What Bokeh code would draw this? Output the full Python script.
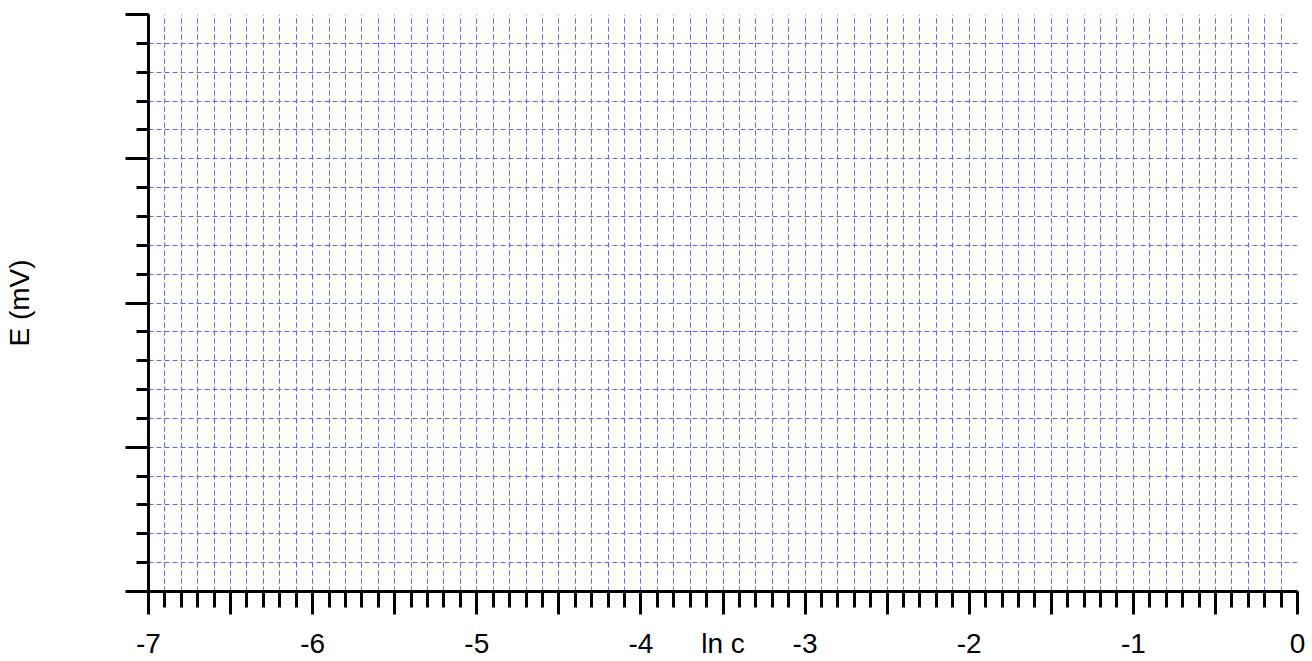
from bokeh.plotting import figure
from bokeh.models import FixedTicker, Range1d
from bokeh.embed import file_html
from bokeh.resources import INLINE

# ---- data / tick definitions ----
x_labels = {-7: "-7", -6: "-6", -5: "-5", -4: "-4", -3: "-3", -2: "-2", -1: "-1", 0: "0"}
x_half_ticks = [-7, -6.5, -6, -5.5, -5, -4.5, -4, -3.5, -3, -2.5, -2, -1.5, -1, -0.5, 0]
x_minor_ticks = [round(-7 + i * 0.1, 1) for i in range(71)]
y_major_ticks = [0, 1, 2, 3, 4]
y_minor_ticks = [round(i * 0.2, 1) for i in range(21)]
x_title = "ln c"
y_title = "E (mV)"

FONT = "Liberation Sans"

p = figure(width=1312, height=661, output_backend="svg", toolbar_location=None,
           x_range=Range1d(-7, 0), y_range=Range1d(0, 4),
           min_border_left=146, min_border_right=15, min_border_top=14, min_border_bottom=69)
p.outline_line_color = None
p.background_fill_color = "white"
p.border_fill_color = "white"

# x axis
xa = p.xaxis[0]
xa.ticker = FixedTicker(ticks=x_half_ticks, minor_ticks=x_minor_ticks)
overrides = {}
for t in x_half_ticks:
    overrides[t] = x_labels.get(t, "")
overrides[-3.5] = x_title
xa.major_label_overrides = overrides
xa.axis_line_width = 3
xa.axis_line_color = "black"
xa.major_tick_line_width = 3
xa.minor_tick_line_width = 3
xa.major_tick_out = 23
xa.major_tick_in = 0
xa.minor_tick_out = 16
xa.minor_tick_in = 0
xa.major_label_standoff = 13
xa.major_label_text_font = FONT
xa.major_label_text_font_size = "28px"
xa.major_label_text_color = "black"

# y axis
ya = p.yaxis[0]
ya.ticker = FixedTicker(ticks=y_major_ticks, minor_ticks=y_minor_ticks)
ya.major_label_overrides = {t: "" for t in y_major_ticks}
ya.axis_line_width = 3
ya.axis_line_color = "black"
ya.major_tick_line_width = 3
ya.minor_tick_line_width = 3
ya.major_tick_out = 23
ya.major_tick_in = 0
ya.minor_tick_out = 12
ya.minor_tick_in = 0
ya.major_label_standoff = 5
ya.axis_label = y_title
ya.axis_label_text_font = FONT
ya.axis_label_text_font_size = "28px"
ya.axis_label_text_font_style = "normal"
ya.axis_label_text_color = "black"
ya.axis_label_standoff = 91

# grids
p.xgrid.ticker = FixedTicker(ticks=x_minor_ticks)
p.ygrid.ticker = FixedTicker(ticks=y_minor_ticks)
for g in (p.xgrid, p.ygrid):
    g.grid_line_color = "#6262ff"
    g.grid_line_alpha = 1.0
    g.grid_line_dash = "5 3"
    g.grid_line_width = 1

open("out.html", "w").write(file_html(p, INLINE))
